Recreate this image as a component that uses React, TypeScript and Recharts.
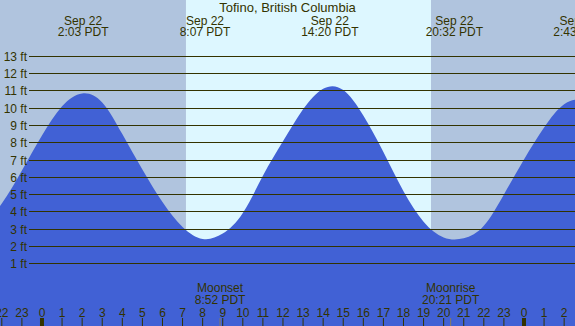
import React from "react";
import {
  AreaChart,
  Area,
  XAxis,
  YAxis,
  ReferenceArea,
  ReferenceLine,
} from "recharts";

// hours since midnight Sep 22 (PDT)
const hours = [-3, -2, -1, 0, 1, 2, 3, 4, 5, 6, 7, 8, 9, 10, 11, 12, 13, 14, 15, 16, 17, 18, 19, 20, 21, 22, 23, 24, 25, 26, 27];
// tide height, ft
const heights = [3.2, 4.46, 6.36, 8.39, 10.08, 10.82, 10.3, 8.47, 6.42, 4.54, 3.1, 2.41, 2.72, 3.91, 6.06, 8.05, 9.9, 11.09, 11.02, 9.55, 7.44, 5.17, 3.41, 2.5, 2.45, 3.17, 4.98, 7.0, 8.85, 10.2, 10.5];

const tideTimes = [2.05, 8.117, 14.333, 20.533, 26.717];
const tideDates = ["Sep 22", "Sep 22", "Sep 22", "Sep 22", "Sep 23"];
const tideLabels = ["2:03 PDT", "8:07 PDT", "14:20 PDT", "20:32 PDT", "2:43 PDT"];

const sunrise = 7.17;
const sunset = 19.37;

const moonTimes = [8.867, 20.35];
const moonNames = ["Moonset", "Moonrise"];
const moonLabels = ["8:52 PDT", "20:21 PDT"];

const hourTicks = [-2, -1, 0, 1, 2, 3, 4, 5, 6, 7, 8, 9, 10, 11, 12, 13, 14, 15, 16, 17, 18, 19, 20, 21, 22, 23, 24, 25, 26];
const ftTicks = [1, 2, 3, 4, 5, 6, 7, 8, 9, 10, 11, 12, 13];

const X_DOMAIN: [number, number] = [-2.09, 26.54];
const Y_DOMAIN: [number, number] = [-2.62, 16.22];

const W = 575;
const H = 326;
const FONT = "'Liberation Sans', Arial, sans-serif";
const INK = "#333300";
const NIGHT = "#b0c4de";
const DAY = "#ddf7ff";
const WATER = "#4161d5";

const data = hours.map((t, i) => ({ t, ft: heights[i] }));

const hourMark = (v: number) => (p: any) => {
  const x = p.x1;
  const hr = ((v % 24) + 24) % 24;
  return (
    <g>
      <text x={x} y={316.5} textAnchor="middle" fontSize={12} fill={INK} fontFamily={FONT}>
        {hr}
      </text>
      {hr === 0 ? (
        <rect x={x - 2} y={318} width={4} height={8} fill={INK} />
      ) : (
        <line x1={x} x2={x} y1={318} y2={326} stroke={INK} strokeWidth={1} />
      )}
    </g>
  );
};

const ftLine = (v: number) => (p: any) => {
  const y = Math.round(p.y1) + 0.5;
  return (
    <g>
      <line x1={29} x2={W} y1={y} y2={y} stroke={INK} strokeWidth={1} />
      <text x={27} y={y + 4.5} textAnchor="end" fontSize={12} fill={INK} fontFamily={FONT}>
        {v} ft
      </text>
    </g>
  );
};

const tideLabel = (i: number) => (p: any) => {
  const x = p.viewBox.x;
  return (
    <g fontFamily={FONT} fontSize={12} fill={INK} textAnchor="middle">
      <text x={x} y={24.5}>{tideDates[i]}</text>
      <text x={x} y={35.5}>{tideLabels[i]}</text>
    </g>
  );
};

const moonLabel = (i: number) => (p: any) => {
  const x = p.viewBox.x;
  return (
    <g fontFamily={FONT} fontSize={12} fill={INK} textAnchor="middle">
      <text x={x} y={292}>{moonNames[i]}</text>
      <text x={x} y={303.5}>{moonLabels[i]}</text>
      <line x1={x} x2={x} y1={318} y2={326} stroke="#8b7d5a" strokeWidth={1} />
    </g>
  );
};

export default function App() {
  return (
    <div style={{ position: "absolute", left: 0, top: 0, width: W, height: H }}>
      <AreaChart width={W} height={H} data={data} margin={{ top: 0, right: 0, bottom: 0, left: 0 }}>
        <XAxis dataKey="t" type="number" domain={X_DOMAIN} allowDataOverflow hide />
        <YAxis type="number" domain={Y_DOMAIN} allowDataOverflow hide />
        <ReferenceArea x1={X_DOMAIN[0]} x2={sunrise} fill={NIGHT} fillOpacity={1} />
        <ReferenceArea x1={sunrise} x2={sunset} fill={DAY} fillOpacity={1} />
        <ReferenceArea x1={sunset} x2={X_DOMAIN[1]} fill={NIGHT} fillOpacity={1} />
        <Area
          type="natural"
          dataKey="ft"
          stroke="none"
          fill={WATER}
          fillOpacity={1}
          baseValue="dataMin"
          dot={false}
          activeDot={false}
          isAnimationActive={false}
        />
        {ftTicks.map((v) => (
          <ReferenceLine key={"ft" + v} y={v} shape={ftLine(v)} />
        ))}
        {hourTicks.map((v) => (
          <ReferenceLine key={"h" + v} x={v} shape={hourMark(v)} />
        ))}
        {tideTimes.map((t, i) => (
          <ReferenceLine key={"tide" + i} x={t} stroke="none" ifOverflow="visible" label={tideLabel(i)} />
        ))}
        {moonTimes.map((t, i) => (
          <ReferenceLine key={"moon" + i} x={t} stroke="none" ifOverflow="visible" label={moonLabel(i)} />
        ))}
      </AreaChart>
      <div
        style={{
          position: "absolute",
          left: 0,
          top: 0,
          width: W,
          textAlign: "center",
          fontFamily: FONT,
          fontSize: 13,
          lineHeight: "15px",
          color: INK,
        }}
      >
        Tofino, British Columbia
      </div>
    </div>
  );
}
